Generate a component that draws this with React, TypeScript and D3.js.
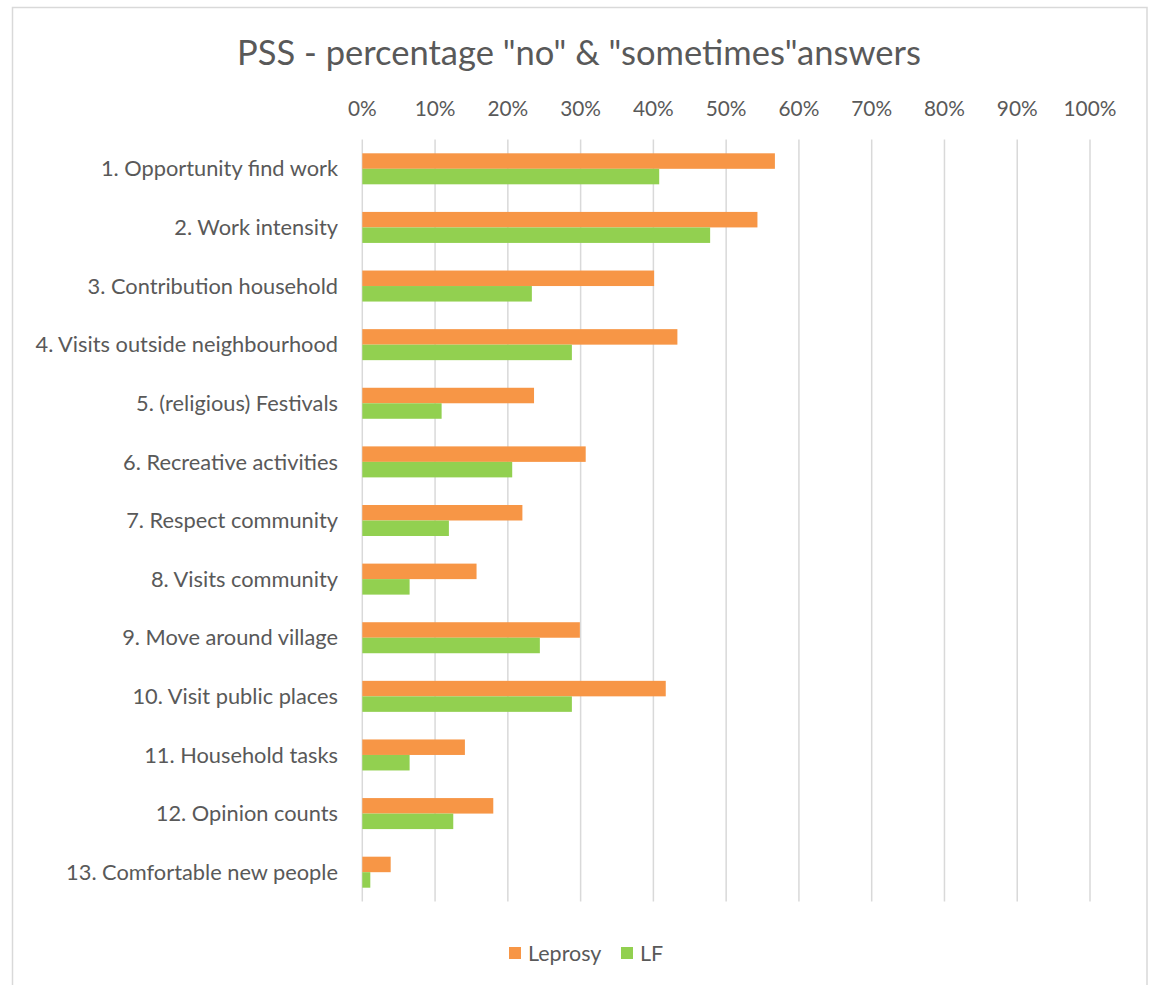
import React from "react";
import * as d3 from "d3";

// Survey items (PSS participation scale)
const categories: string[] = [
  "1. Opportunity find work",
  "2. Work intensity",
  "3. Contribution household",
  "4. Visits outside neighbourhood",
  "5. (religious) Festivals",
  "6. Recreative activities",
  "7. Respect community",
  "8. Visits community",
  "9. Move around village",
  "10. Visit public places",
  "11. Household tasks",
  "12. Opinion counts",
  "13. Comfortable new people",
];

// Share of "no" and "sometimes" answers per group
const leprosy: number[] = [
  0.567, 0.543, 0.401, 0.433, 0.236, 0.307, 0.22, 0.157, 0.299, 0.417, 0.141, 0.18, 0.039,
];
const lf: number[] = [
  0.408, 0.478, 0.233, 0.288, 0.109, 0.206, 0.119, 0.065, 0.244, 0.288, 0.065, 0.125, 0.011,
];

const seriesNames: string[] = ["Leprosy", "LF"];
const seriesColors: string[] = ["#F79646", "#92D050"];
const tickValues: number[] = [0, 0.1, 0.2, 0.3, 0.4, 0.5, 0.6, 0.7, 0.8, 0.9, 1.0];

const title = 'PSS - percentage "no" & "sometimes"answers';

const W = 1152;
const H = 985;
const FONT = "Lato, 'Open Sans', sans-serif";
const TEXT = "#595959";

export default function App() {
  const plotLeft = 362.3;
  const plotRight = 1090;
  const plotTop = 139.5;
  const plotBottom = 901.5;

  const x = d3.scaleLinear().domain([0, 1]).range([plotLeft, plotRight]);
  const gap = 0.471;
  const y = d3
    .scaleBand<string>()
    .domain(categories)
    .range([plotTop, plotBottom])
    .paddingInner(gap)
    .paddingOuter(gap / 2);
  const inner = d3
    .scaleBand<string>()
    .domain(seriesNames)
    .range([0, y.bandwidth()]);

  const seriesValues = [leprosy, lf];

  return (
    <svg
      width={W}
      height={H}
      style={{ position: "absolute", left: 0, top: 0 }}
      fontFamily={FONT}
    >
      <rect x={0} y={0} width={W} height={H} fill="#fff" />
      <rect x={12.5} y={7.5} width={1134.5} height={985} fill="#fff" stroke="#d9d9d9" strokeWidth={1.5} />

      <text x={579} y={65} textAnchor="middle" fontSize={34.5} fill={TEXT}>
        {title}
      </text>

      {/* gridlines and top axis labels */}
      {tickValues.map((t) => (
        <g key={t}>
          <line
            x1={x(t)}
            x2={x(t)}
            y1={plotTop}
            y2={plotBottom}
            stroke="#d9d9d9"
            strokeWidth={1.5}
          />
          <text x={x(t)} y={116} textAnchor="middle" fontSize={20.8} fill={TEXT}>
            {d3.format(".0%")(t)}
          </text>
        </g>
      ))}

      {/* bars */}
      {categories.map((c, i) => (
        <g key={c}>
          {seriesValues.map((vals, s) => (
            <rect
              key={seriesNames[s]}
              x={x(0)}
              y={(y(c) ?? 0) + (inner(seriesNames[s]) ?? 0)}
              width={x(vals[i]) - x(0)}
              height={inner.bandwidth()}
              fill={seriesColors[s]}
            />
          ))}
          <text
            x={338}
            y={(y(c) ?? 0) + y.bandwidth() / 2}
            dy="0.35em"
            textAnchor="end"
            fontSize={21.8}
            fill={TEXT}
          >
            {c}
          </text>
        </g>
      ))}

      {/* legend */}
      <g>
        <rect x={509} y={947} width={12} height={12} fill={seriesColors[0]} />
        <text x={528} y={953} dy="0.35em" fontSize={21.5} fill={TEXT}>
          {seriesNames[0]}
        </text>
        <rect x={621} y={947} width={12} height={12} fill={seriesColors[1]} />
        <text x={640} y={953} dy="0.35em" fontSize={21.5} fill={TEXT}>
          {seriesNames[1]}
        </text>
      </g>
    </svg>
  );
}
